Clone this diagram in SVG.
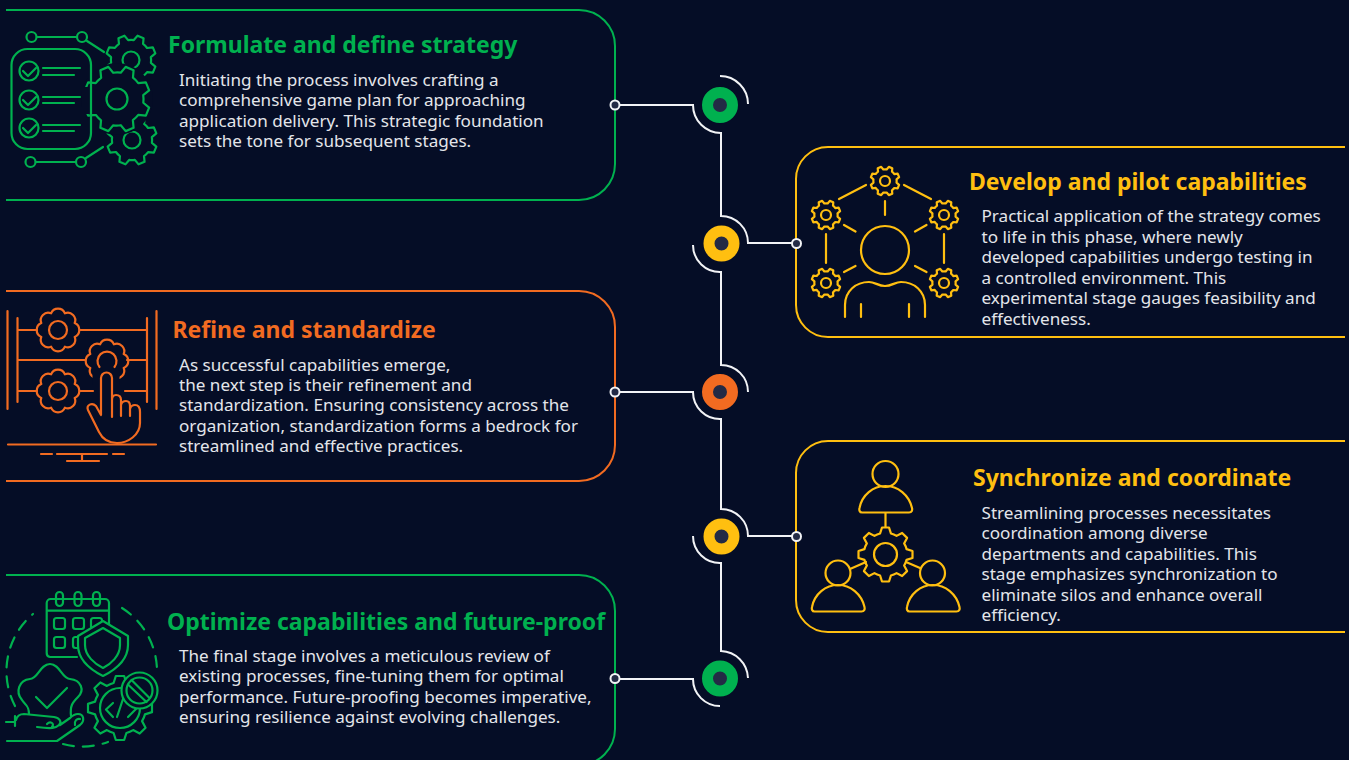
<svg xmlns="http://www.w3.org/2000/svg" xmlns:xlink="http://www.w3.org/1999/xlink" width="1349" height="760" viewBox="0 0 1349 760">
<style>
text{font-family:"Noto Sans","DejaVu Sans",sans-serif}
.t{font-size:23px;font-weight:700}
.b{font-size:17.100px;fill:#e3e5ea}
.s,.s *{fill:none;stroke-linecap:round;stroke-linejoin:round}
.gn{stroke:#00b14f}.yl{stroke:#ffbf10}.or{stroke:#f26b21}
.w2{stroke-width:2.200}
.card{fill:none;stroke-width:2}
.cn{fill:none;stroke:#f2f3f6;stroke-width:2}
.pt{fill:#232a45;stroke:#f2f3f6;stroke-width:2}
.hub{fill:#232a45;stroke-width:11}
.bg{fill:#050d26;stroke:none}
.ns{vector-effect:non-scaling-stroke}
</style>
<defs>
<path id="g8" class="ns" d="M-20-78L-13-100H13L20-78A78 78 0 0 1 41-69L61.500-79.900L79.900-61.500L69-41A78 78 0 0 1 78-20L100-13V13L78 20A78 78 0 0 1 69 41L79.900 61.500L61.500 79.900L41 69A78 78 0 0 1 20 78L13 100H-13L-20 78A78 78 0 0 1-41 69L-61.500 79.900L-79.900 61.500L-69 41A78 78 0 0 1-78 20L-100 13V-13L-78-20A78 78 0 0 1-69-41L-79.900-61.500L-61.500-79.900L-41-69A78 78 0 0 1-20-78Z"/>
<path id="g8s" class="ns" d="M-31.400-75.800A34 34 0 0 1 31.400-75.800A34 34 0 0 1 75.800-31.400A34 34 0 0 1 75.800 31.400A34 34 0 0 1 31.400 75.800A34 34 0 0 1-31.400 75.800A34 34 0 0 1-75.800 31.400A34 34 0 0 1-75.800-31.400A34 34 0 0 1-31.400-75.800Z"/>
<path id="p" d="M-23.500 13H23.500C26.500 13 27 10.500 26.500 8.500C23.500-4.500 12.500-13.500 0-13.500C-12.500-13.500-23.500-4.500-26 8.500C-26.500 10.500-26 13-23.500 13Z"/>
</defs>
<rect class="bg" width="1349" height="760"/>

<g id="connectors">
<path class="cn" d="M615 105H693A28 28 0 0 0 721 133V216A27 27 0 0 1 748 243H796"/>
<path class="cn" d="M720 76A28 28 0 0 1 748 104"/>
<path class="cn" d="M693 245A27 27 0 0 0 721 272V365A27 27 0 0 1 748 392"/>
<path class="cn" d="M615 392H693A27 27 0 0 0 721 419V509A27 27 0 0 1 748 536H796"/>
<path class="cn" d="M693 536A27 27 0 0 0 721 563V651A28 28 0 0 1 748 678"/>
<path class="cn" d="M615 679H693A27 27 0 0 0 720 706"/>
</g>

<g id="node-formulate">
<path class="card gn" d="M6 10H579A36 36 0 0 1 615 46V164A36 36 0 0 1 579 200H6"/>
<g class="s gn w2">
<use xlink:href="#g8" href="#g8" transform="translate(131 60) rotate(22.500) scale(.25)"/>
<circle cx="131" cy="60" r="8.500"/>
<use xlink:href="#g8" href="#g8" transform="translate(132 140) rotate(22.500) scale(.25)"/>
<circle cx="132" cy="140" r="8.500"/>
<circle class="bg" cx="117" cy="99" r="36"/>
<use xlink:href="#g8" href="#g8" transform="translate(117 99) rotate(22.500) scale(.33)"/>
<rect class="bg" x="82" y="87" width="17" height="27"/>
<circle cx="117" cy="99" r="10.500"/>
<rect x="11.500" y="49" width="79.500" height="100" rx="16"/>
<circle cx="29" cy="71" r="9.500"/><circle cx="29" cy="100" r="9.500"/><circle cx="29" cy="128" r="9.500"/>
<path d="M23 71l5 5 8-8M23 100l5 5 8-8M23 128l5 5 8-8M43 68H80M43 75H74M43 97H80M43 103H74M43 125H80M43 131H74"/>
<circle cx="31.500" cy="37" r="5"/><circle cx="82" cy="37" r="5"/><circle cx="30.500" cy="162" r="5"/><circle cx="81" cy="162" r="5"/>
<path d="M37 37H77M87 41L104 52M36 162H75M86 158L103 147"/>
</g>
<text class="t" x="168" y="53" fill="#00b14f">Formulate and define strategy</text>
<text class="b"><tspan x="179" y="85.500">Initiating the process involves crafting a</tspan><tspan x="179" y="106">comprehensive game plan for approaching</tspan><tspan x="179" y="126.500">application delivery. This strategic foundation</tspan><tspan x="179" y="147">sets the tone for subsequent stages.</tspan></text>
<circle class="hub gn" cx="720" cy="105" r="12.500"/>
<circle class="pt" cx="615" cy="105" r="4.500"/>
</g>

<g id="node-develop">
<path class="card yl" d="M1345 147H828A32 32 0 0 0 796 179V305A32 32 0 0 0 828 337H1345"/>
<g class="s yl w2">
<use xlink:href="#g8" href="#g8" transform="translate(885 181) rotate(22.500) scale(.145)"/>
<use xlink:href="#g8" href="#g8" transform="translate(826 215) rotate(22.500) scale(.145)"/>
<use xlink:href="#g8" href="#g8" transform="translate(944 215) rotate(22.500) scale(.145)"/>
<use xlink:href="#g8" href="#g8" transform="translate(826 283) rotate(22.500) scale(.145)"/>
<use xlink:href="#g8" href="#g8" transform="translate(944 283) rotate(22.500) scale(.145)"/>
<circle cx="885" cy="181" r="5"/><circle cx="826" cy="215" r="5"/><circle cx="944" cy="215" r="5"/><circle cx="826" cy="283" r="5"/><circle cx="944" cy="283" r="5"/>
<path d="M839 199L866 185M904 185L931 199M885 201V215M844 225L855.500 231.500M926.500 225L915 231.500M855.500 266L844 272M915 266L926.500 272M826 234V263M944 234V263"/>
<circle cx="885" cy="250" r="24"/>
<path d="M845 317V305C845 291 856 282 869 282C875 282 878 286 885 286C892 286 895 282 901 282C914 282 925 291 925 305V317M861 304V317M909 304V317"/>
</g>
<text class="t" x="969" y="190" fill="#ffbf10">Develop and pilot capabilities</text>
<text class="b"><tspan x="981.500" y="222">Practical application of the strategy comes</tspan><tspan x="981.500" y="243">to life in this phase, where newly</tspan><tspan x="981.500" y="263">developed capabilities undergo testing in</tspan><tspan x="981.500" y="284">a controlled environment. This</tspan><tspan x="981.500" y="304">experimental stage gauges feasibility and</tspan><tspan x="981.500" y="325">effectiveness.</tspan></text>
<circle class="hub yl" cx="721.500" cy="243.500" r="12.500"/>
<circle class="pt" cx="796.500" cy="243.500" r="4.500"/>
</g>

<g id="node-refine">
<path class="card or" d="M6 291H579A36 36 0 0 1 615 327V445A36 36 0 0 1 579 481H6"/>
<g class="s or w2">
<path d="M7.500 311V409M156.500 311V409M17.500 318V402M147 318V402M17.500 330H37M80 330H147M17.500 360H85M127 360H147M17.500 391H37M80 391H93M125 391H147"/>
<use xlink:href="#g8s" href="#g8s" transform="translate(58 330) scale(.22)"/>
<use xlink:href="#g8s" href="#g8s" transform="translate(58 391) scale(.22)"/>
<use xlink:href="#g8s" href="#g8s" transform="translate(107 361) scale(.22)"/>
<rect class="bg" x="92.500" y="375" width="27" height="10"/>
<circle cx="58" cy="330" r="9"/><circle cx="58" cy="391" r="9"/>
<path d="M99.500 367A9.500 9.500 0 1 1 114.500 367"/>
<path d="M101 415V378A5.500 5.500 0 0 1 112 378V417M112 400Q112 395 116 395Q121 395 121 400V416M121 405Q122 401 126 401Q130 401 130 406V416M130 409Q131 405 135 405Q140 405 140 412V423C140 435 128 443 117 443C108 443 102 438 99 432L88 410C86 405 92 402 96 406L101 415"/>
<path d="M8 444.500H156M41 454H52M57 454H107M113 454H124M82 454V461M67 461H99"/>
</g>
<text class="t" x="172.500" y="338" fill="#f26b21">Refine and standardize</text>
<text class="b"><tspan x="179" y="371">As successful capabilities emerge,</tspan><tspan x="179" y="391">the next step is their refinement and</tspan><tspan x="179" y="411">standardization. Ensuring consistency across the</tspan><tspan x="179" y="432">organization, standardization forms a bedrock for</tspan><tspan x="179" y="452">streamlined and effective practices.</tspan></text>
<circle class="hub or" cx="720" cy="392" r="12.500"/>
<circle class="pt" cx="615" cy="392" r="4.500"/>
</g>

<g id="node-synchronize">
<path class="card yl" d="M1345 441H828A32 32 0 0 0 796 473V600A32 32 0 0 0 828 632H1345"/>
<g class="s yl w2">
<circle cx="885.500" cy="474" r="13"/>
<use xlink:href="#p" href="#p" transform="translate(885.500 499.500)"/>
<path d="M885.500 513V527M850 569L866 562M906 562L920 568"/>
<use xlink:href="#g8" href="#g8" transform="translate(885.500 554.500) scale(.27)"/>
<circle cx="885.500" cy="554.500" r="11.500"/>
<circle cx="838" cy="573" r="12.500"/>
<use xlink:href="#p" href="#p" transform="translate(838 598.500)"/>
<circle cx="932.500" cy="573" r="12.500"/>
<use xlink:href="#p" href="#p" transform="translate(933 598.500)"/>
</g>
<text class="t" x="973" y="486" fill="#ffbf10">Synchronize and coordinate</text>
<text class="b"><tspan x="981.500" y="519">Streamlining processes necessitates</tspan><tspan x="981.500" y="539">coordination among diverse</tspan><tspan x="981.500" y="560">departments and capabilities. This</tspan><tspan x="981.500" y="580">stage emphasizes synchronization to</tspan><tspan x="981.500" y="601">eliminate silos and enhance overall</tspan><tspan x="981.500" y="621">efficiency.</tspan></text>
<circle class="hub yl" cx="721.500" cy="536.500" r="12.500"/>
<circle class="pt" cx="796.500" cy="536.500" r="4.500"/>
</g>

<g id="node-optimize">
<path class="card gn" d="M6 575H579A36 36 0 0 1 615 611V729A36 36 0 0 1 579 765H6"/>
<g class="s gn w2">
<path stroke-dasharray="11 9" d="M15 706A75 75 0 0 1 33 614"/>
<path stroke-dasharray="11 9" d="M122 608A75 75 0 0 1 157 673"/>
<path stroke-dasharray="11 9" d="M63 744A75 75 0 0 0 108 742"/>
<path d="M77 657H50A4 4 0 0 1 46.700 653V603A4 4 0 0 1 50.700 599H105A4 4 0 0 1 109 603V625M46.700 610.700H109"/>
<rect x="56" y="592" width="7" height="14" rx="3.500"/><rect x="74.500" y="592" width="7" height="14" rx="3.500"/><rect x="93" y="592" width="7" height="14" rx="3.500"/>
<rect x="54" y="618" width="11" height="11" rx="2.500"/><rect x="73" y="618" width="11" height="11" rx="2.500"/><rect x="91" y="618" width="11" height="11" rx="2.500"/>
<rect x="54" y="637" width="11" height="11" rx="2.500"/><rect x="73" y="637" width="11" height="11" rx="2.500"/>
<path class="bg" d="M103 621L128 636V645C128 660 115 670 103 676C91 670 78 660 78 645V636Z"/>
<path d="M103 621L128 636V645C128 660 115 670 103 676C91 670 78 660 78 645V636Z"/>
<path d="M103 628L120 638V645C120 656 111 664 103 668C95 664 85 656 85 645V638Z"/>
<path d="M29 714C29 705 25 705 22 700C15 692 19 680 30 679C38 679 40 664 50 664C60 664 62 679 70 679C81 680 85 690 78 697C72 703 70 706 71 716"/>
<path d="M36 697L47 708L67 688"/>
<path d="M6 722H15M15 716V726M16 720C17 716 20 714 24 714L54 717C60 718 62 722 59 725C56 728 52 729 37 727M47 724C50 721 55 723 52 727M7 741H57L80 725C85 721 84 714 78 714C75 714 72 716 70 718L60 725M75 725C74 721 77 718 80 719"/>
<use xlink:href="#g8" href="#g8" transform="translate(120 708) scale(.32)"/>
<circle cx="120" cy="708" r="20"/>
<path d="M113 703L106 709.500L113 717M117 717L125 693M128 717L137 708"/>
<circle class="bg" cx="139.500" cy="690.500" r="18"/>
<circle cx="139.500" cy="690.500" r="18"/><circle cx="139.500" cy="690.500" r="13"/>
<path d="M131.500 680L149.500 698M128.500 685L146.500 702"/>
</g>
<text class="t" x="167" y="630" fill="#00b14f">Optimize capabilities and future-proof</text>
<text class="b"><tspan x="179" y="662">The final stage involves a meticulous review of</tspan><tspan x="179" y="682">existing processes, fine-tuning them for optimal</tspan><tspan x="179" y="703">performance. Future-proofing becomes imperative,</tspan><tspan x="179" y="723">ensuring resilience against evolving challenges.</tspan></text>
<circle class="hub gn" cx="720" cy="678.500" r="12.500"/>
<circle class="pt" cx="615" cy="678.500" r="4.500"/>
</g>
</svg>
